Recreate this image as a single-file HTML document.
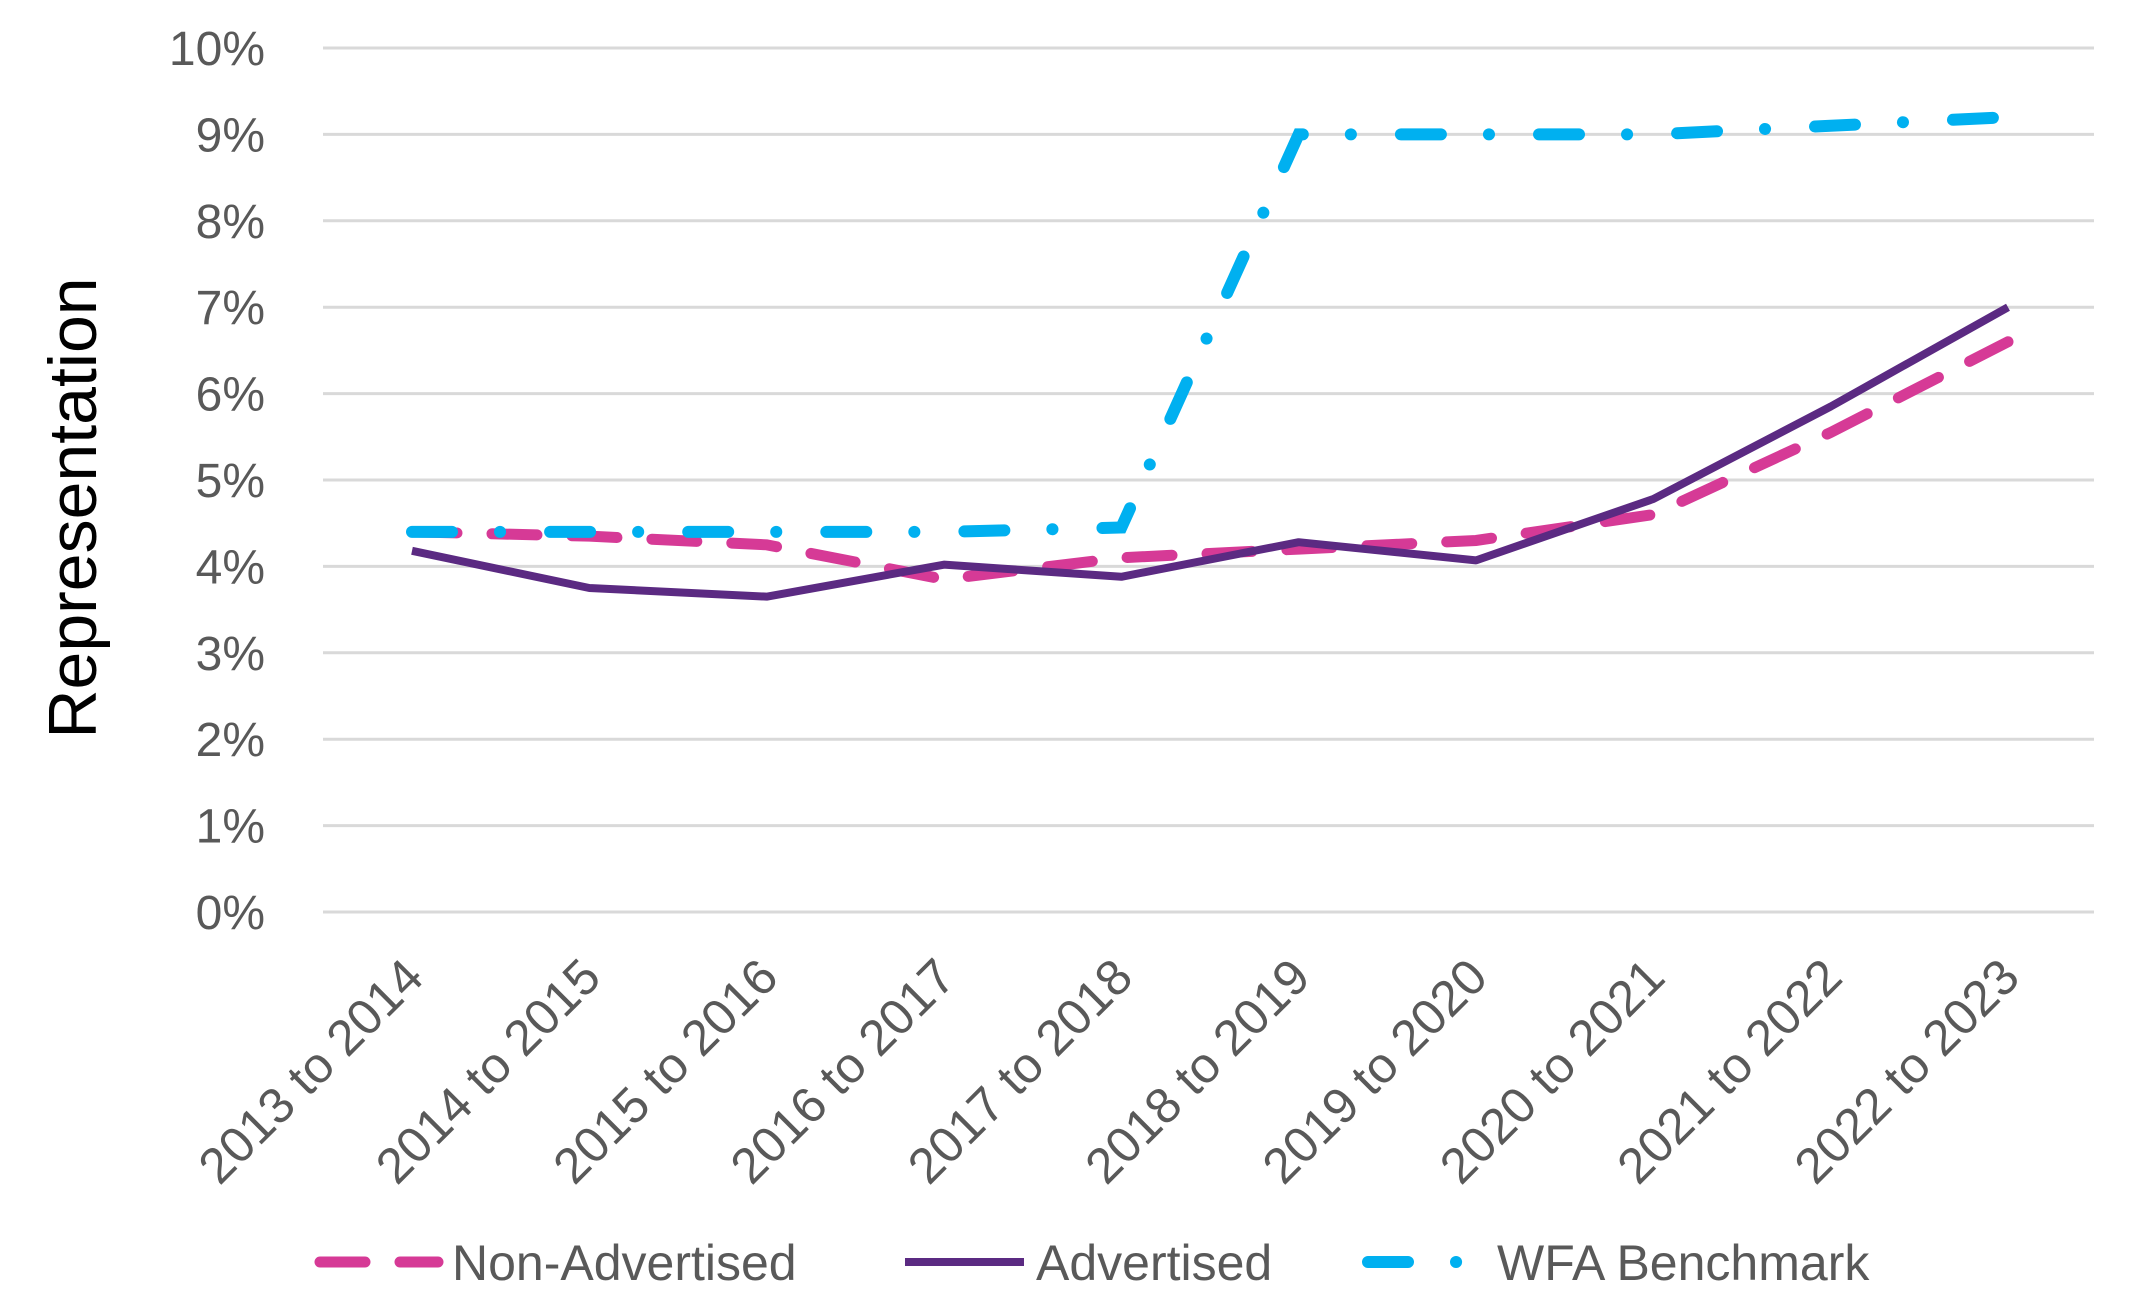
<!DOCTYPE html>
<html><head><meta charset="utf-8"><style>
html,body{margin:0;padding:0;background:#fff;}
svg{display:block;font-family:"Liberation Sans",sans-serif;}
</style></head><body>
<svg id="chart" width="2145" height="1299" viewBox="0 0 2145 1299">
<g id="grid"></g>
<g id="yticks"></g>
<g id="xticks"></g>
<g id="series"></g>
<text transform="translate(96,508) rotate(-90)" text-anchor="middle" font-size="68" fill="#000">Representation</text>
<g>
 <g>
  <line x1="320" y1="1262" x2="438" y2="1262" stroke="#D63A96" stroke-width="11" stroke-dasharray="45 35" stroke-linecap="round"/>
  <text x="452" y="1280" font-size="50" fill="#595959">Non-Advertised</text></g>
 <g>
  <line x1="905" y1="1262" x2="1024" y2="1262" stroke="#5B2A82" stroke-width="8"/>
  <text x="1036" y="1280" font-size="50" fill="#595959">Advertised</text></g>
 <g>
  <line x1="1368" y1="1262" x2="1468" y2="1262" stroke="#00B0F0" stroke-width="12" stroke-dasharray="40 48 0.1 50" stroke-linecap="round"/>
  <text x="1497" y="1280" font-size="50" fill="#595959">WFA Benchmark</text></g>
</g>
</svg>
<script>
const categories=["2013 to 2014","2014 to 2015","2015 to 2016","2016 to 2017","2017 to 2018","2018 to 2019","2019 to 2020","2020 to 2021","2021 to 2022","2022 to 2023"];
const nonAdvertised=[4.4,4.35,4.25,3.85,4.1,4.2,4.3,4.6,5.55,6.6];
const advertised=[4.18,3.75,3.65,4.02,3.88,4.28,4.07,4.78,5.85,7.0];
const wfaBenchmark=[4.4,4.4,4.4,4.4,4.45,9.0,9.0,9.0,9.1,9.2];
const yTicks=[0,1,2,3,4,5,6,7,8,9,10];
const NS="http://www.w3.org/2000/svg";
const X0=412,X1=2008,Y0=912,Y10=48,L=323,R=2094;
const xs=i=>X0+(X1-X0)*i/(categories.length-1);
const ys=v=>Y0+(Y10-Y0)*v/10;
function mk(t,a,p){const e=document.createElementNS(NS,t);for(const k in a)e.setAttribute(k,a[k]);p.appendChild(e);return e;}
const grid=document.getElementById('grid'),yt=document.getElementById('yticks'),xt=document.getElementById('xticks'),ser=document.getElementById('series');
yTicks.forEach(v=>{
 const g=mk('line',{x1:L,x2:R,y1:ys(v),y2:ys(v),stroke:'#d9d9d9','stroke-width':3},grid);
 
 
 const t=mk('text',{x:265,y:ys(v)+17,'text-anchor':'end','font-size':48,fill:'#595959'},yt);
 t.textContent=v+'%';
 
 
});
categories.forEach((c,i)=>{
 const x=xs(i)+14,y=980;
 const t=mk('text',{x:x,y:y,'text-anchor':'end','font-size':50,fill:'#595959',transform:`rotate(-45 ${x} ${y})`},xt);
 t.textContent=c;
 
 
});
function line(data,attrs,name){
 const d=data.map((v,i)=>(i?'L':'M')+xs(i)+' '+ys(v)).join(' ');
 const p=mk('path',Object.assign({d:d,fill:'none'},attrs),ser);
 
 
}
line(nonAdvertised,{stroke:'#D63A96','stroke-width':11,'stroke-dasharray':'45 35','stroke-linecap':'round'},'non-advertised-line');
line(advertised,{stroke:'#5B2A82','stroke-width':8,'stroke-linejoin':'round'},'advertised-line');
line(wfaBenchmark,{stroke:'#00B0F0','stroke-width':12,'stroke-dasharray':'40 48 0.1 50','stroke-linecap':'round'},'wfa-benchmark-line');
</script>
</body></html>
